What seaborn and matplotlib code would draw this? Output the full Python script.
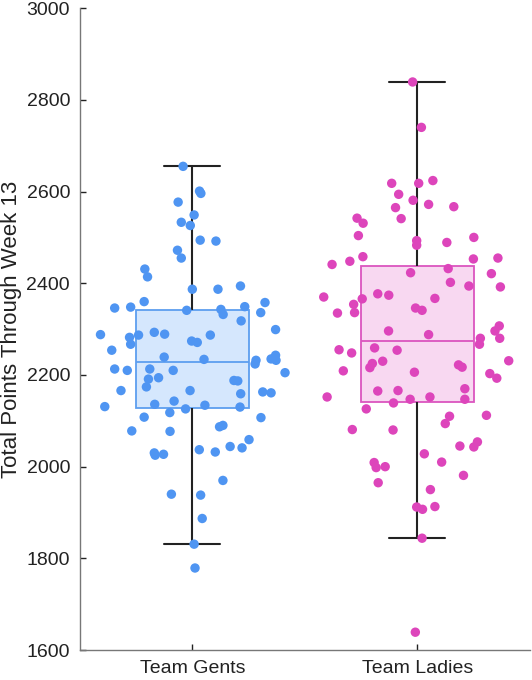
import numpy as np
import pandas as pd
import seaborn as sns
import matplotlib
matplotlib.use("Agg")
import matplotlib.pyplot as plt

# categories
teams = ["Team Gents", "Team Ladies"]

# Team Gents: total points and the horizontal jitter of each dot
gents_points = [2655, 2601, 2596, 2577, 2549, 2533, 2526, 2494, 2492, 2472,
                2455, 2431, 2414, 2387, 2387, 2394, 2360, 2346, 2348, 2341,
                2343, 2332, 2349, 2358, 2336, 2318, 2299, 2293, 2288, 2282,
                2267, 2287, 2289, 2274, 2271, 2287, 2254, 2239, 2234, 2232,
                2224, 2235, 2243, 2232, 2213, 2210, 2213, 2210, 2205, 2191,
                2194, 2174, 2188, 2187, 2166, 2166, 2159, 2163, 2161, 2131,
                2136, 2143, 2126, 2134, 2130, 2108, 2118, 2107, 2078, 2077,
                2087, 2090, 2059, 2030, 2025, 2027, 2037, 2032, 2044, 2041,
                1970, 1940, 1938, 1887, 1831, 1779]
gents_jitter = [-0.041, 0.032, 0.038, -0.063, 0.008, -0.049, -0.009, 0.035, 0.105, -0.066,
                -0.049, -0.211, -0.199, 0.000, 0.114, 0.214, -0.214, -0.345, -0.274, -0.025,
                0.127, 0.137, 0.233, 0.323, 0.304, 0.217, 0.370, -0.169, -0.408, -0.279,
                -0.274, -0.239, -0.123, -0.003, 0.022, 0.080, -0.358, -0.125, 0.052, 0.283,
                0.279, 0.350, 0.370, 0.372, -0.345, -0.289, -0.189, -0.085, 0.412, -0.195,
                -0.150, -0.204, 0.185, 0.202, -0.317, -0.010, 0.215, 0.313, 0.350, -0.389,
                -0.167, -0.081, -0.030, 0.056, 0.212, -0.214, -0.100, 0.305, -0.269, -0.099,
                0.121, 0.136, 0.252, -0.169, -0.165, -0.128, 0.031, 0.102, 0.168, 0.221,
                0.136, -0.093, 0.037, 0.044, 0.008, 0.012]

# Team Ladies: total points and jitter
ladies_points = [2839, 2740, 2618, 2618, 2624, 2594, 2581, 2572, 2567, 2565,
                 2541, 2542, 2531, 2504, 2493, 2483, 2489, 2500, 2441, 2448,
                 2458, 2453, 2455, 2423, 2432, 2402, 2394, 2421, 2392, 2370,
                 2366, 2377, 2374, 2367, 2354, 2336, 2335, 2346, 2341, 2296,
                 2288, 2307, 2296, 2280, 2280, 2267, 2255, 2248, 2259, 2254,
                 2230, 2225, 2216, 2209, 2206, 2222, 2217, 2231, 2203, 2193,
                 2152, 2165, 2166, 2170, 2147, 2147, 2152, 2139, 2126, 2110,
                 2094, 2112, 2081, 2080, 2054, 2043, 2045, 2028, 2010, 2009,
                 1998, 2000, 1981, 1965, 1950, 1912, 1907, 1913, 1844, 1639]
ladies_jitter = [-0.021, 0.018, -0.114, 0.006, 0.069, -0.083, -0.019, 0.050, 0.162, -0.097,
                 -0.072, -0.268, -0.241, -0.262, -0.003, -0.003, 0.131, 0.251, -0.379, -0.300,
                 -0.242, 0.249, 0.358, -0.030, 0.137, 0.147, 0.229, 0.329, 0.369, -0.416,
                 -0.245, -0.176, -0.127, 0.078, -0.283, -0.279, -0.355, -0.008, 0.021, -0.128,
                 0.050, 0.364, 0.345, 0.366, 0.280, 0.276, -0.348, -0.292, -0.190, -0.090,
                 -0.154, -0.200, -0.211, -0.329, -0.013, 0.183, 0.199, 0.406, 0.322, 0.353,
                 -0.401, -0.176, -0.086, 0.211, 0.211, -0.032, 0.056, -0.106, -0.227, 0.143,
                 0.124, 0.307, -0.289, -0.108, 0.267, 0.251, 0.189, 0.031, 0.108, -0.192,
                 -0.183, -0.143, 0.205, -0.174, 0.058, -0.003, 0.023, 0.078, 0.021, -0.009]

dot_colors = ["#4f95f2", "#dd45bb"]
box_fills = ["#d5e7fd", "#f8d8f1"]
box_edges = ["#5d9eef", "#db55bf"]

df = pd.DataFrame({
    "team": [teams[0]] * len(gents_points) + [teams[1]] * len(ladies_points),
    "points": gents_points + ladies_points,
    "jitter": gents_jitter + ladies_jitter,
})

sns.set_style("ticks")
plt.rcParams["font.family"] = ["Liberation Sans", "DejaVu Sans"]
plt.rcParams["xtick.direction"] = "in"
plt.rcParams["ytick.direction"] = "in"

fig = plt.figure(figsize=(5.32, 6.8), dpi=100)
ax = fig.add_axes([0.150, 0.044, 0.846, 0.944])

# boxes first, one call per team so each gets its own colours
for i, t in enumerate(teams):
    sub = df[df["team"] == t]
    sns.boxplot(data=sub, x="team", y="points", order=teams, ax=ax,
                width=0.5, whis=1.5, showfliers=False,
                boxprops=dict(facecolor=box_fills[i], edgecolor=box_edges[i], linewidth=1.3),
                medianprops=dict(color=box_edges[i], linewidth=1.3),
                whiskerprops=dict(color="#222222", linewidth=1.5),
                capprops=dict(color="#222222", linewidth=1.5))

# jittered dots on top
for i, t in enumerate(teams):
    sub = df[df["team"] == t]
    sns.scatterplot(x=i + sub["jitter"], y=sub["points"], ax=ax, color=dot_colors[i],
                    s=46, edgecolor="none", linewidth=0, zorder=4, legend=False)

ax.set_xlim(-0.5, 1.5)
ax.set_ylim(1600, 3000)
ax.set_yticks(range(1600, 3001, 200))
ax.set_xticks([0, 1])
ax.set_xticklabels(teams)
ax.set_xlabel("")
ax.set_ylabel("Total Points Through Week 13", fontsize=16, color="#222222", labelpad=3)
ax.tick_params(axis="both", labelsize=14, colors="#222222", length=4, width=1)
ax.tick_params(axis="y", pad=7)
ax.tick_params(axis="x", pad=7)
for side in ["left", "bottom"]:
    ax.spines[side].set_color("#777777")
    ax.spines[side].set_linewidth(1)
ax.spines["top"].set_visible(False)
ax.spines["right"].set_visible(False)
for tl in ax.get_xticklines() + ax.get_yticklines():
    tl.set_color("#777777")

fig.savefig("out.png", dpi=100)
